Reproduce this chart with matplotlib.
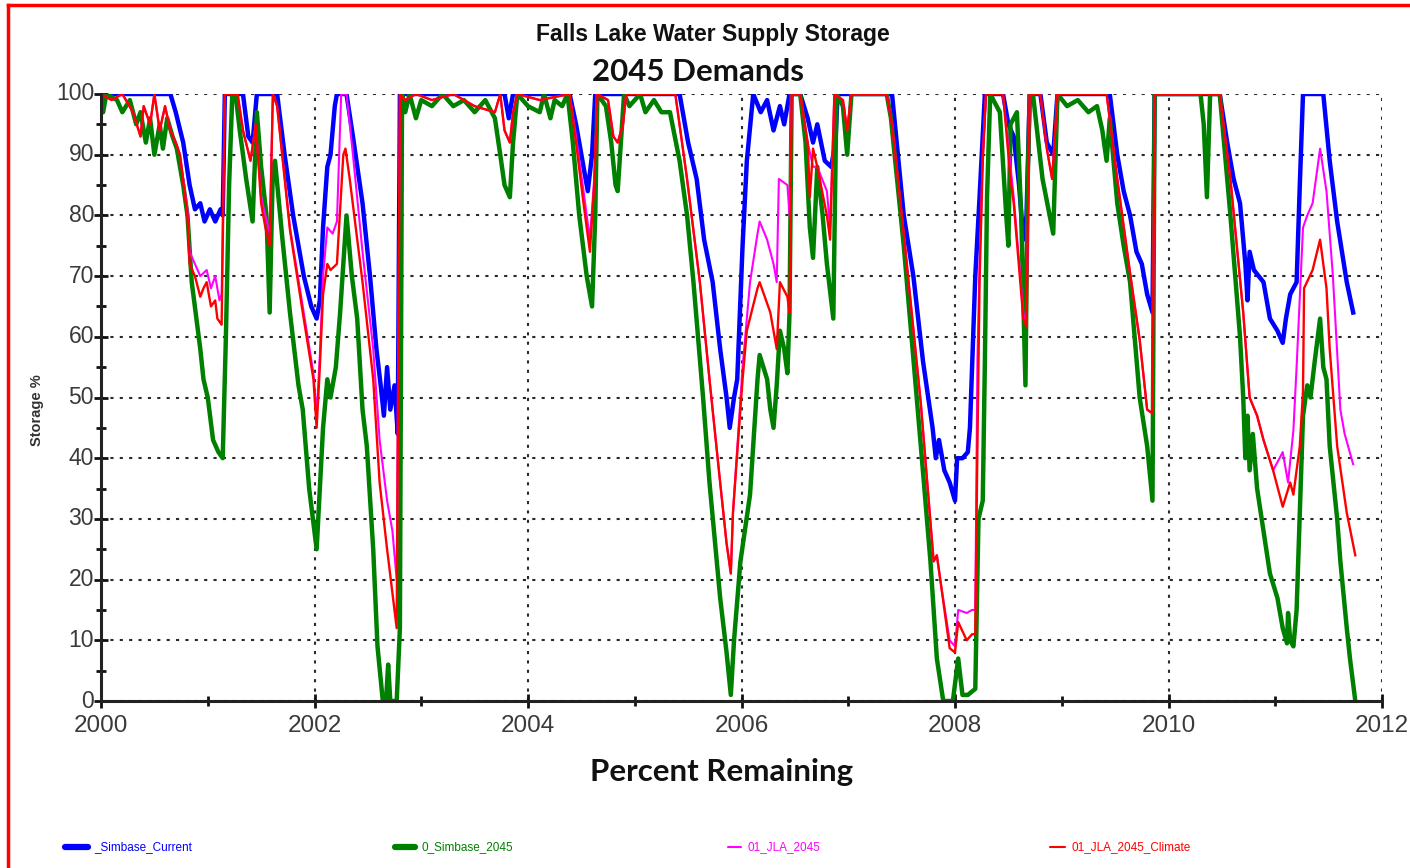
import matplotlib
matplotlib.use("Agg")
import matplotlib.pyplot as plt
from matplotlib.lines import Line2D
from matplotlib.ticker import MultipleLocator

# ---------------- data (years, storage %) ----------------
blue_t = [2000.00, 2000.65, 2000.70, 2000.77, 2000.83, 2000.88, 2000.93, 2000.97, 2001.02, 2001.07, 2001.12, 2001.14,
          2001.16, 2001.33, 2001.38, 2001.42, 2001.46, 2001.65, 2001.72, 2001.80, 2001.90, 2001.97, 2002.02, 2002.05,
          2002.08, 2002.12, 2002.15, 2002.19, 2002.21, 2002.30, 2002.36, 2002.45, 2002.52, 2002.58, 2002.62, 2002.65,
          2002.68, 2002.71, 2002.75, 2002.78, 2002.80, 2003.78, 2003.82, 2003.86, 2004.39, 2004.45, 2004.50, 2004.56,
          2004.60, 2004.63, 2005.42, 2005.50, 2005.58, 2005.65, 2005.73, 2005.80, 2005.86, 2005.89, 2005.93, 2005.96,
          2006.01, 2006.05, 2006.11, 2006.18, 2006.24, 2006.30, 2006.36, 2006.40, 2006.45, 2006.55, 2006.62, 2006.67,
          2006.71, 2006.78, 2006.84, 2006.88, 2006.90, 2007.41, 2007.52, 2007.61, 2007.70, 2007.79, 2007.82, 2007.85,
          2007.90, 2007.95, 2008.00, 2008.02, 2008.07, 2008.12, 2008.14, 2008.19, 2008.23, 2008.28, 2008.45, 2008.50,
          2008.55, 2008.60, 2008.64, 2008.67, 2008.70, 2008.80, 2008.86, 2008.92, 2008.96, 2009.45, 2009.52, 2009.58,
          2009.64, 2009.70, 2009.75, 2009.80, 2009.85, 2009.87, 2010.48, 2010.55, 2010.61, 2010.67, 2010.72, 2010.74,
          2010.76, 2010.80, 2010.89, 2010.95, 2011.02, 2011.07, 2011.10, 2011.14, 2011.20, 2011.23, 2011.26, 2011.45,
          2011.51, 2011.58, 2011.67, 2011.73]
blue_v = [100, 100, 97, 92, 85, 81, 82, 79, 81, 79, 81, 80,
          100, 100, 93, 92, 100, 100, 90, 80, 70, 65, 63, 66,
          78, 88, 90, 98, 100, 100, 93, 82, 70, 58, 52, 47,
          55, 48, 52, 44, 100, 100, 96, 100, 100, 95, 90, 84,
          90, 100, 100, 92, 86, 76, 69, 58, 50, 45, 50, 53,
          75, 89, 100, 97, 99, 94, 98, 95, 100, 100, 96, 92,
          95, 89, 88, 92, 100, 100, 80, 70, 56, 45, 40, 43,
          38, 36, 33, 40, 40, 41, 45, 70, 83, 100, 100, 95,
          93, 85, 76, 80, 100, 100, 92, 90, 100, 100, 90, 84,
          80, 74, 72, 67, 64, 100, 100, 92, 86, 82, 72, 66,
          74, 71, 69, 63, 61, 59, 63, 67, 69, 85, 100, 100,
          89, 79, 69, 64]

green_t = [2000.00, 2000.02, 2000.05, 2000.15, 2000.20, 2000.27, 2000.33, 2000.37, 2000.42, 2000.46, 2000.50, 2000.55,
           2000.58, 2000.62, 2000.67, 2000.71, 2000.77, 2000.81, 2000.85, 2000.93, 2000.96, 2001.00, 2001.05, 2001.10,
           2001.14, 2001.17, 2001.20, 2001.23, 2001.26, 2001.30, 2001.36, 2001.42, 2001.46, 2001.50, 2001.55, 2001.58,
           2001.61, 2001.63, 2001.70, 2001.77, 2001.85, 2001.89, 2001.95, 2002.02, 2002.05, 2002.08, 2002.12, 2002.15,
           2002.20, 2002.24, 2002.30, 2002.35, 2002.40, 2002.45, 2002.49, 2002.55, 2002.59, 2002.64, 2002.67, 2002.69,
           2002.71, 2002.77, 2002.80, 2002.82, 2002.85, 2002.89, 2002.95, 2003.00, 2003.10, 2003.20, 2003.30, 2003.40,
           2003.50, 2003.60, 2003.69, 2003.74, 2003.78, 2003.83, 2003.86, 2003.90, 2004.00, 2004.11, 2004.15, 2004.21,
           2004.25, 2004.32, 2004.37, 2004.42, 2004.48, 2004.55, 2004.60, 2004.63, 2004.65, 2004.73, 2004.78, 2004.82,
           2004.84, 2004.87, 2004.90, 2004.95, 2005.05, 2005.10, 2005.18, 2005.25, 2005.33, 2005.42, 2005.49, 2005.55,
           2005.64, 2005.70, 2005.80, 2005.86, 2005.90, 2005.93, 2005.99, 2006.08, 2006.15, 2006.17, 2006.24, 2006.27,
           2006.30, 2006.33, 2006.36, 2006.40, 2006.43, 2006.45, 2006.47, 2006.55, 2006.60, 2006.64, 2006.67, 2006.71,
           2006.76, 2006.80, 2006.86, 2006.89, 2006.95, 2006.99, 2007.03, 2007.36, 2007.40, 2007.52, 2007.68, 2007.77,
           2007.83, 2007.89, 2007.98, 2008.03, 2008.07, 2008.12, 2008.19, 2008.22, 2008.26, 2008.28, 2008.30, 2008.33,
           2008.42, 2008.48, 2008.50, 2008.52, 2008.58, 2008.62, 2008.66, 2008.68, 2008.70, 2008.73, 2008.82, 2008.92,
           2008.96, 2009.05, 2009.15, 2009.25, 2009.33, 2009.38, 2009.42, 2009.45, 2009.52, 2009.58, 2009.64, 2009.73,
           2009.80, 2009.85, 2009.87, 2010.30, 2010.33, 2010.36, 2010.39, 2010.48, 2010.58, 2010.67, 2010.70, 2010.72,
           2010.74, 2010.76, 2010.79, 2010.83, 2010.89, 2010.95, 2011.02, 2011.07, 2011.11, 2011.12, 2011.14, 2011.17,
           2011.20, 2011.23, 2011.26, 2011.30, 2011.33, 2011.37, 2011.42, 2011.45, 2011.48, 2011.51, 2011.58, 2011.61,
           2011.67, 2011.70, 2011.75]
green_v = [100, 97, 100, 99, 97, 99, 95, 97, 92, 96, 90, 95,
           91, 96, 93, 91, 85, 80, 69, 58, 53, 50, 43, 41,
           40, 60, 85, 100, 100, 94, 86, 79, 97, 88, 80, 64,
           88, 89, 76, 64, 52, 48, 35, 25, 35, 45, 53, 50,
           55, 64, 80, 70, 63, 48, 42, 25, 9, 0, 0, 6,
           0, 0, 12, 100, 97, 100, 96, 99, 98, 100, 98, 99,
           97, 99, 96, 90, 85, 83, 92, 100, 98, 97, 100, 96,
           99, 98, 100, 92, 80, 70, 65, 80, 100, 98, 92, 85,
           84, 92, 100, 98, 100, 97, 99, 97, 97, 89, 80, 69,
           50, 36, 17, 8, 1, 10, 23, 34, 53, 57, 53, 48,
           45, 52, 61, 58, 54, 64, 100, 100, 92, 78, 73, 88,
           80, 72, 63, 100, 98, 90, 100, 100, 96, 75, 42, 23,
           7, 0, 0, 7, 1, 1, 2, 30, 33, 56, 83, 100,
           97, 80, 75, 95, 97, 80, 52, 85, 100, 100, 86, 77,
           100, 98, 99, 97, 98, 94, 89, 96, 82, 75, 69, 50,
           42, 33, 100, 100, 95, 83, 100, 100, 80, 60, 50, 40,
           47, 38, 44, 35, 28, 21, 17, 12, 9.5, 14.5, 10, 9,
           15, 31, 47, 52, 50, 56, 63, 55, 53, 42, 30, 23,
           12, 7, 0]

red_t = [2000.00, 2000.10, 2000.20, 2000.30, 2000.37, 2000.40, 2000.46, 2000.50, 2000.55, 2000.60, 2000.65, 2000.70,
         2000.74, 2000.81, 2000.83, 2000.88, 2000.93, 2000.96, 2000.99, 2001.03, 2001.07, 2001.09, 2001.13, 2001.16,
         2001.28, 2001.33, 2001.40, 2001.45, 2001.50, 2001.54, 2001.58, 2001.61, 2001.65, 2001.77, 2001.89, 2001.99,
         2002.02, 2002.05, 2002.08, 2002.12, 2002.15, 2002.21, 2002.27, 2002.29, 2002.33, 2002.45, 2002.55, 2002.61,
         2002.68, 2002.77, 2002.80, 2002.85, 2002.95, 2003.10, 2003.30, 2003.50, 2003.69, 2003.74, 2003.78, 2003.83,
         2003.86, 2003.90, 2004.11, 2004.39, 2004.45, 2004.52, 2004.58, 2004.62, 2004.65, 2004.75, 2004.80, 2004.84,
         2004.89, 2004.92, 2005.38, 2005.49, 2005.61, 2005.70, 2005.80, 2005.86, 2005.90, 2005.92, 2006.01, 2006.05,
         2006.15, 2006.17, 2006.27, 2006.33, 2006.36, 2006.43, 2006.45, 2006.47, 2006.55, 2006.62, 2006.64, 2006.67,
         2006.71, 2006.80, 2006.83, 2006.87, 2006.95, 2006.99, 2007.03, 2007.36, 2007.41, 2007.52, 2007.68, 2007.80,
         2007.83, 2007.87, 2007.95, 2008.00, 2008.03, 2008.11, 2008.16, 2008.19, 2008.21, 2008.23, 2008.26, 2008.29,
         2008.45, 2008.52, 2008.55, 2008.64, 2008.67, 2008.70, 2008.80, 2008.86, 2008.91, 2008.96, 2009.42, 2009.52,
         2009.64, 2009.73, 2009.80, 2009.85, 2009.87, 2010.48, 2010.58, 2010.70, 2010.76, 2010.83, 2010.89, 2010.98,
         2011.07, 2011.14, 2011.17, 2011.23, 2011.26, 2011.27, 2011.35, 2011.42, 2011.48, 2011.51, 2011.58, 2011.67,
         2011.75]
red_v = [100, 99, 100, 97, 93, 98, 95, 100, 94, 98, 94, 92,
         90, 80, 72, 70, 66.6, 68, 69, 65, 66, 63, 62, 100,
         100, 94, 89, 95, 82, 78, 75, 100, 98, 77.6, 64, 53,
         45, 55, 67, 72, 71, 72, 90, 91, 86, 69, 53, 36,
         25, 12, 100, 99, 100, 99, 100, 98, 97, 100, 94, 92,
         97, 100, 99, 100, 92, 82, 74, 85, 100, 99, 93, 92,
         95, 100, 100, 86, 69, 53, 36, 26, 21, 31, 53, 61,
         68, 69, 64, 58, 69, 66.6, 64, 100, 100, 92, 83, 91,
         88, 80, 76, 100, 99, 94, 100, 100, 95, 77, 49, 23,
         24, 19, 8.7, 8, 13, 10, 11, 11, 42, 69, 89, 100,
         100, 86, 82, 63, 61.6, 100, 100, 91, 86, 100, 100, 86,
         70.5, 59.5, 48, 47.4, 100, 100, 86, 64, 50, 47, 43, 38,
         32, 36, 34, 42, 51, 68, 71, 76, 68, 58, 42, 31,
         24]

magenta_t = [2000.00, 2000.10, 2000.20, 2000.30, 2000.37, 2000.40, 2000.46, 2000.50, 2000.55, 2000.60, 2000.65, 2000.70,
             2000.74, 2000.81, 2000.83, 2000.88, 2000.93, 2000.99, 2001.03, 2001.07, 2001.11, 2001.13, 2001.16,
             2001.28, 2001.33, 2001.40, 2001.45, 2001.50, 2001.54, 2001.58, 2001.61, 2001.65, 2001.77, 2001.89, 2001.99,
             2002.02, 2002.05, 2002.08, 2002.12, 2002.17, 2002.21, 2002.25, 2002.30, 2002.36, 2002.45, 2002.55, 2002.61,
             2002.68, 2002.73, 2002.77, 2002.80, 2002.85, 2002.95, 2003.10, 2003.30, 2003.50, 2003.69, 2003.74, 2003.78,
             2003.83, 2003.86, 2003.90, 2004.11, 2004.39, 2004.45, 2004.52, 2004.58, 2004.62, 2004.65, 2004.75, 2004.80,
             2004.84, 2004.89, 2004.92, 2005.38, 2005.49, 2005.61, 2005.70, 2005.80, 2005.86, 2005.90, 2005.92, 2006.01,
             2006.08, 2006.15, 2006.17, 2006.24, 2006.30, 2006.33, 2006.35, 2006.43, 2006.45, 2006.47, 2006.55, 2006.62,
             2006.67, 2006.71, 2006.80, 2006.83, 2006.87, 2006.95, 2006.99, 2007.03, 2007.36, 2007.41, 2007.52, 2007.68,
             2007.80, 2007.83, 2007.87, 2007.95, 2008.00, 2008.03, 2008.11, 2008.16, 2008.19, 2008.21, 2008.23, 2008.26,
             2008.29, 2008.45, 2008.52, 2008.55, 2008.64, 2008.67, 2008.70, 2008.80, 2008.86, 2008.91, 2008.96, 2009.42,
             2009.52, 2009.64, 2009.73, 2009.80, 2009.85, 2009.87, 2010.48, 2010.58, 2010.70, 2010.76, 2010.83, 2010.89,
             2010.98, 2011.07, 2011.12, 2011.17, 2011.20, 2011.26, 2011.30, 2011.35, 2011.42, 2011.48, 2011.54, 2011.61,
             2011.65, 2011.73]
magenta_v = [100, 99, 100, 97, 93, 98, 95, 100, 94, 98, 94, 92,
             90, 81, 74, 72, 70, 71, 68, 70, 66, 67, 100,
             100, 94, 89, 95, 83, 80, 77, 100, 98, 78, 65, 54,
             47, 57, 70, 78, 77, 79, 100, 100, 90, 74, 58, 43,
             33, 28, 20, 100, 99, 100, 99, 100, 98, 97, 100, 94,
             92, 97, 100, 99, 100, 93, 84, 76, 86, 100, 99, 93,
             92, 95, 100, 100, 86, 69, 53, 36, 26, 21, 31, 55,
             69, 77, 79, 76, 72, 69, 86, 85, 80, 100, 100, 92,
             88, 88, 84, 78, 100, 99, 94, 100, 100, 95, 77, 49,
             23, 24, 19, 10, 9, 15, 14.5, 15, 15, 56, 72, 90,
             100, 100, 88, 83, 64, 62, 100, 100, 91, 86, 100, 100,
             86, 70.5, 59.5, 48, 47.4, 100, 100, 86, 64, 50, 47, 43,
             38, 41, 36, 44.6, 55, 78, 80, 82, 91, 84, 70, 48,
             44, 39]

x_ticks = [2000, 2002, 2004, 2006, 2008, 2010, 2012]
y_ticks = [0, 10, 20, 30, 40, 50, 60, 70, 80, 90, 100]

series_names = ["_Simbase_Current", "0_Simbase_2045", "01_JLA_2045", "01_JLA_2045_Climate"]
series_colors = ["#0000FF", "#008000", "#FF00FF", "#FF0000"]

# ---------------- figure ----------------
W, H = 1410, 868
fig = plt.figure(figsize=(W / 100, H / 100), dpi=100)
fig.patch.set_facecolor("white")

L, R, B, T = 101, 1382, 701, 94
ax = fig.add_axes([L / W, 1 - B / H, (R - L) / W, (B - T) / H])

sans = ["Liberation Sans", "DejaVu Sans"]

ax.plot(blue_t, blue_v, color=series_colors[0], lw=3.2, solid_joinstyle="round", zorder=3)
ax.plot(green_t, green_v, color=series_colors[1], lw=3.2, solid_joinstyle="round", zorder=4)
ax.plot(magenta_t, magenta_v, color=series_colors[2], lw=1.5, zorder=5)
ax.plot(red_t, red_v, color=series_colors[3], lw=1.7, zorder=6)

ax.set_xlim(2000, 2012)
ax.set_ylim(0, 100)
ax.set_xticks(x_ticks)
ax.set_yticks(y_ticks)
ax.set_xticklabels([str(v) for v in x_ticks])
ax.set_yticklabels([str(v) for v in y_ticks])
ax.xaxis.set_minor_locator(MultipleLocator(1))
ax.yaxis.set_minor_locator(MultipleLocator(5))

ax.grid(True, which="major", color="#2a2a2a", linestyle=(0, (1.5, 3)), linewidth=1.5, zorder=1)
ax.set_axisbelow(True)

for s in ["top", "right"]:
    ax.spines[s].set_visible(False)
for s in ["left", "bottom"]:
    ax.spines[s].set_linewidth(2.2)
    ax.spines[s].set_color("#222222")
    ax.spines[s].set_zorder(7)

ax.tick_params(axis="both", which="major", direction="inout", length=10, width=2,
               color="#111111", labelcolor="#3a3a3a")
ax.tick_params(axis="both", which="minor", direction="inout", length=7, width=2, color="#111111")
ax.tick_params(axis="y", which="major", pad=0)
ax.tick_params(axis="x", which="major", pad=5)
for lab in ax.get_xticklabels():
    lab.set_fontfamily(sans)
    lab.set_fontsize(17.5)
for lab in ax.get_yticklabels():
    lab.set_fontfamily(sans)
    lab.set_fontsize(16.5)
    lab.set_va("center")

ax.set_ylabel("Storage %", fontsize=10.5, fontweight="bold", color="#333333", family=sans)
ax.yaxis.set_label_coords((44 - L) / (R - L), (B - 410) / (B - T))

# titles
fig.text(713 / W, 1 - 35 / H, "Falls Lake Water Supply Storage", ha="center", va="center",
         fontsize=16.5, fontweight="bold", family=sans, color="#111111")
fig.text(698 / W, 1 - 72 / H, "2045 Demands", ha="center", va="center",
         fontsize=22.5, fontweight="bold", family=["Lato", "DejaVu Sans"], color="#111111")
fig.text(722 / W, 1 - 772 / H, "Percent Remaining", ha="center", va="center",
         fontsize=22.5, fontweight="bold", family=["Lato", "DejaVu Sans"], color="#111111")

# legend row
leg_x = [65, 395, 728, 1050]
leg_len = [23, 20, 13, 15]
leg_lw = [4.5, 4.5, 1.5, 1.5]
for name, col, x0, ln, lw in zip(series_names, series_colors, leg_x, leg_len, leg_lw):
    yy = 1 - 847 / H
    fig.add_artist(Line2D([x0 / W, (x0 + ln) / W], [yy, yy], transform=fig.transFigure,
                          color=col, lw=lw, solid_capstyle="round"))
    fig.text((x0 + ln + 6) / W, yy, name, ha="left", va="center", fontsize=8.5,
             family=sans, color=col)

# red frame (left and top edges)
fig.add_artist(Line2D([8 / W, 8 / W], [0, 1 - 5 / H], transform=fig.transFigure, color="#FF0000", lw=2.5))
fig.add_artist(Line2D([8 / W, 1], [1 - 5 / H, 1 - 5 / H], transform=fig.transFigure, color="#FF0000", lw=2.5))

fig.savefig("out.png", dpi=100, facecolor="white")
